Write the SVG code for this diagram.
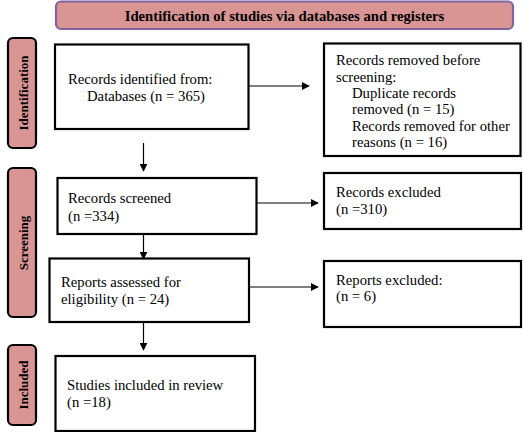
<svg xmlns="http://www.w3.org/2000/svg" width="524" height="432" viewBox="0 0 524 432">
<defs>
<marker id="ah" viewBox="0 0 10 10" refX="9" refY="5" markerWidth="8" markerHeight="8" markerUnits="userSpaceOnUse" orient="auto">
<path d="M0,0 L10,5 L0,10 z" fill="#000"/>
</marker>
</defs>
<style>
.box{fill:#fff;stroke:#000;stroke-width:2.2}
.side{fill:#d99594;stroke:#000;stroke-width:2.2}
.hdr{fill:#d99594;stroke:#8064a2;stroke-width:2.2}
.t{font-family:"Liberation Serif","Times New Roman",serif;font-size:14.7px;fill:#000}
.b{font-family:"Liberation Serif","Times New Roman",serif;font-size:14.7px;font-weight:bold;fill:#000}
.s{font-family:"Liberation Serif","Times New Roman",serif;font-size:13px;font-weight:bold;fill:#000}
.c{stroke:#000;stroke-width:1.2;fill:none;marker-end:url(#ah)}
</style>
<rect width="524" height="432" fill="#fff"/>
<g id="header">
<rect class="hdr" x="56" y="1.5" width="457" height="27.5" rx="5"/>
<text class="b" x="284.5" y="20.5" text-anchor="middle">Identification of studies via databases and registers</text>
</g>
<g id="side-identification">
<rect class="side" x="8" y="38" width="28" height="110" rx="5"/>
<text class="s" transform="translate(27.5,93) rotate(-90)" text-anchor="middle">Identification</text>
</g>
<g id="side-screening">
<rect class="side" x="8" y="168" width="28" height="149" rx="5"/>
<text class="s" transform="translate(27.5,243) rotate(-90)" text-anchor="middle">Screening</text>
</g>
<g id="side-included">
<rect class="side" x="8" y="345" width="28" height="80" rx="5"/>
<text class="s" transform="translate(27.5,385) rotate(-90)" text-anchor="middle">Included</text>
</g>
<g id="n-identified">
<rect class="box" x="55" y="44.5" width="193.5" height="84.5"/>
<text class="t" x="68" y="84">Records identified from:</text>
<text class="t" x="87" y="101">Databases (n = 365)</text>
</g>
<g id="n-removed">
<rect class="box" x="324" y="43.5" width="196.5" height="112.5"/>
<text class="t" x="336" y="65">Records removed before</text>
<text class="t" x="336" y="82">screening:</text>
<text class="t" x="352" y="98">Duplicate records</text>
<text class="t" x="352" y="114">removed (n = 15)</text>
<text class="t" x="352" y="131">Records removed for other</text>
<text class="t" x="352" y="147">reasons (n = 16)</text>
</g>
<g id="n-screened">
<rect class="box" x="57.5" y="178" width="199" height="56"/>
<text class="t" x="68" y="203">Records screened</text>
<text class="t" x="68" y="221">(n =334)</text>
</g>
<g id="n-excluded">
<rect class="box" x="324" y="173" width="197" height="56"/>
<text class="t" x="336" y="197">Records excluded</text>
<text class="t" x="336" y="214">(n =310)</text>
</g>
<g id="n-assessed">
<rect class="box" x="49.5" y="258.5" width="199.5" height="63.5"/>
<text class="t" x="61" y="287">Reports assessed for</text>
<text class="t" x="61" y="304">eligibility (n = 24)</text>
</g>
<g id="n-reports-excluded">
<rect class="box" x="324" y="261" width="197" height="66"/>
<text class="t" x="336" y="285">Reports excluded:</text>
<text class="t" x="336" y="301">(n = 6)</text>
</g>
<g id="n-included">
<rect class="box" x="55.5" y="356" width="199.5" height="75"/>
<text class="t" x="67" y="390">Studies included in review</text>
<text class="t" x="67" y="407">(n =18)</text>
</g>
<g id="connectors">
<path class="c" d="M249,86 H309"/>
<path class="c" d="M143.5,143 V171"/>
<path class="c" d="M257,203 H318"/>
<path class="c" d="M143.5,234 V259"/>
<path class="c" d="M249,287 H318"/>
<path class="c" d="M143.5,322 V350"/>
</g>
</svg>
